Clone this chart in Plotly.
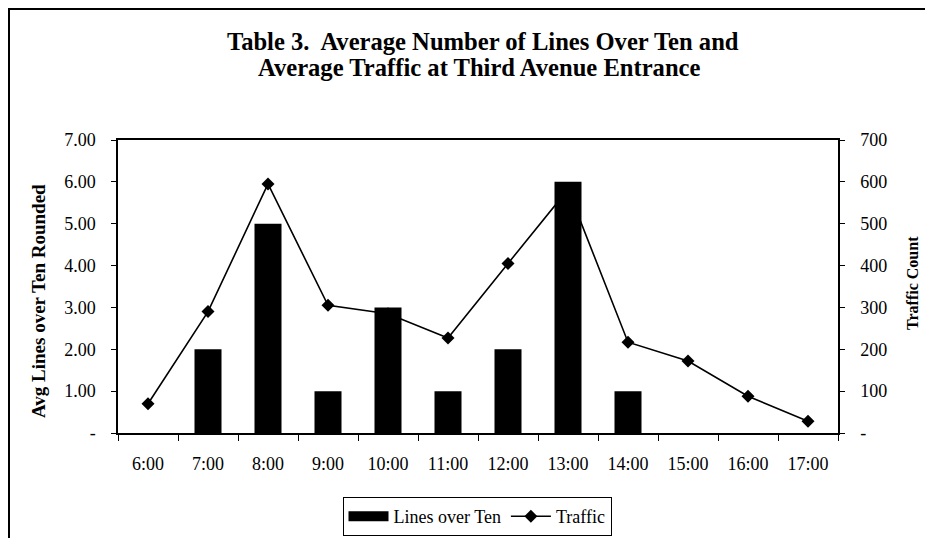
import plotly.graph_objects as go

hours = ["6:00", "7:00", "8:00", "9:00", "10:00", "11:00", "12:00",
         "13:00", "14:00", "15:00", "16:00", "17:00"]
lines_over_ten = [0, 2, 5, 1, 3, 1, 2, 6, 1, 0, 0, 0]
traffic = [70, 290, 595, 305, 285, 227, 405, 582, 217, 172, 88, 28]

left_ticks = [0, 1, 2, 3, 4, 5, 6, 7]
left_labels = ["-", "1.00", "2.00", "3.00", "4.00", "5.00", "6.00", "7.00"]
right_ticks = [0, 100, 200, 300, 400, 500, 600, 700]
right_labels = ["-", "100", "200", "300", "400", "500", "600", "700"]

SERIF = "Liberation Serif, Times New Roman, serif"

# page body has an 8px margin, so the figure is laid out 8px up/left
OFF = 8
W, H = 933 - OFF, 538 - OFF
L, R, T, B = 118 - OFF, 838 - OFF, 140 - OFF, 433 - OFF
pw, ph = R - L, B - T


def px(x_screen):
    return (x_screen - OFF - L) / pw


def py(y_screen):
    return (B - (y_screen - OFF)) / ph


fig = go.Figure()

# Bars on the overlaying axis so they sit above the line, as in the reference
fig.add_trace(go.Bar(
    x=hours, y=lines_over_ten, name="Lines over Ten",
    marker=dict(color="black", line=dict(width=0)),
    width=0.45, yaxis="y2", showlegend=False,
))
# legend entry with a wide black block, like the reference legend key
fig.add_trace(go.Scatter(
    x=[None], y=[None], name="Lines over Ten", mode="lines",
    line=dict(color="black", width=13), yaxis="y2", showlegend=True,
))
fig.add_trace(go.Scatter(
    x=hours, y=traffic, name="Traffic", mode="lines+markers",
    line=dict(color="black", width=1.6),
    marker=dict(symbol="diamond", size=10, color="black"),
    yaxis="y",
))

fig.update_layout(
    width=W, height=H,
    margin=dict(l=L, r=W - R, t=T, b=H - B, pad=0, autoexpand=False),
    paper_bgcolor="white", plot_bgcolor="white",
    font=dict(family=SERIF, size=18, color="black"),
    showlegend=True,
    legend=dict(
        orientation="h", x=px(477), xanchor="center",
        y=py(497), yanchor="top",
        bordercolor="black", borderwidth=1,
        font=dict(family=SERIF, size=18, color="black"),
        itemwidth=40, traceorder="normal",
    ),
    xaxis=dict(
        type="category", range=[-0.5, 11.5], automargin=False,
        showline=True, linecolor="black", linewidth=1.5, mirror=True,
        ticks="outside", ticklen=6, tickcolor="black",
        tickson="boundaries", showgrid=False,
        ticklabelstandoff=14,
        tickfont=dict(family=SERIF, size=18),
    ),
    yaxis=dict(
        range=[0, 700], side="right", automargin=False,
        tickvals=right_ticks, ticktext=right_labels,
        showline=True, linecolor="black", linewidth=1.5,
        ticks="outside", ticklen=5, tickcolor="black",
        showgrid=False, zeroline=False,
        ticklabelstandoff=12,
        tickfont=dict(family=SERIF, size=18),
    ),
    yaxis2=dict(
        range=[0, 7], side="left", overlaying="y", automargin=False,
        tickvals=left_ticks, ticktext=left_labels,
        showline=True, linecolor="black", linewidth=1.5,
        ticks="outside", ticklen=5, tickcolor="black",
        showgrid=False, zeroline=False,
        ticklabelstandoff=12,
        tickfont=dict(family=SERIF, size=18),
    ),
    annotations=[
        dict(text="<b>Table 3.  Average Number of Lines Over Ten and</b>",
             xref="paper", yref="paper", x=px(483), y=py(41),
             xanchor="center", yanchor="middle", showarrow=False,
             font=dict(family=SERIF, size=24.6)),
        dict(text="<b>Average Traffic at Third Avenue Entrance</b>",
             xref="paper", yref="paper", x=px(479), y=py(68),
             xanchor="center", yanchor="middle", showarrow=False,
             font=dict(family=SERIF, size=24.6)),
        dict(text="<b>Avg Lines over Ten Rounded</b>",
             xref="paper", yref="paper", x=px(38), y=py(301),
             xanchor="center", yanchor="middle", showarrow=False,
             textangle=-90, font=dict(family=SERIF, size=19)),
        dict(text="<b>Traffic Count</b>",
             xref="paper", yref="paper", x=px(912), y=py(283),
             xanchor="center", yanchor="middle", showarrow=False,
             textangle=-90, font=dict(family=SERIF, size=16)),
    ],
    shapes=[
        dict(type="rect", xref="paper", yref="paper",
             x0=(1 - L) / pw, x1=(922 - L) / pw,
             y0=(B - 560) / ph, y1=(B - 1) / ph,
             line=dict(color="black", width=2), fillcolor="rgba(0,0,0,0)",
             layer="below"),
    ],
)

fig.write_html("out.html")
